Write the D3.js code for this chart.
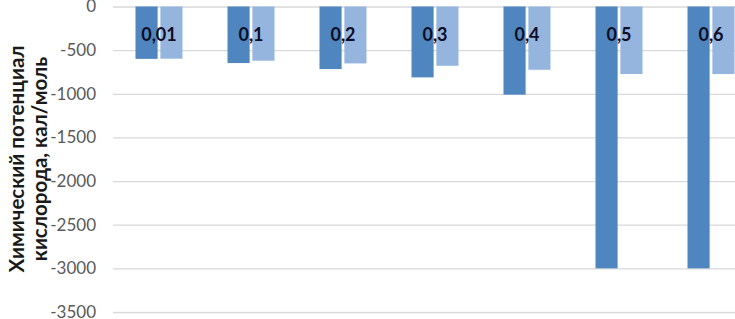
<!DOCTYPE html>
<html>
<head>
<script src="https://d3js.org/d3.v7.min.js"></script>
<style>
  body { margin: 0; background: #fff; }
  .tick text { font-family: Lato, "Open Sans", sans-serif; font-size: 17px; fill: #595959; }
  .grid line { stroke: #d9d9d9; stroke-width: 1.3; }
  .grid .domain { stroke: none; }
  .cat-label { font-family: Lato, sans-serif; font-weight: bold; font-size: 18px; fill: #0d0d26; }
  .axis-title { font-family: Lato, sans-serif; font-weight: bold; font-size: 20.5px; fill: #1a1a1a; }
</style>
</head>
<body>
<svg id="chart" width="735" height="319"></svg>
<script>
  // data
  const categories = ["0,01", "0,1", "0,2", "0,3", "0,4", "0,5", "0,6"];
  const seriesDark = [-600, -648, -717, -812, -1010, -3000, -3000];
  const seriesLight = [-598, -621, -652, -679, -725, -774, -774];
  const yTicks = [0, -500, -1000, -1500, -2000, -2500, -3000, -3500];

  const svg = d3.select("#chart");
  const margin = {top: 6.5, left: 113};
  const plotRight = 757;   // plot area runs past the visible edge
  const plotBottom = 312;

  const x = d3.scaleBand().domain(categories).range([margin.left, plotRight]).padding(0);
  const y = d3.scaleLinear().domain([-3500, 0]).range([plotBottom, margin.top]);

  // gridlines
  svg.append("g")
     .attr("class", "grid")
     .attr("transform", `translate(${margin.left},0)`)
     .call(d3.axisLeft(y).tickValues(yTicks).tickSize(-(plotRight - margin.left)).tickFormat(""));

  // y tick labels
  const yAxis = svg.append("g")
     .attr("transform", `translate(${margin.left - 17},0)`)
     .call(d3.axisLeft(y).tickValues(yTicks).tickSize(0).tickPadding(0).tickFormat(d3.format("d")));
  yAxis.select(".domain").remove();
  yAxis.selectAll("text").text(d => d < 0 ? "-" + Math.abs(d) : d);

  // bars
  const inner = d3.scaleBand().domain([0, 1]).range([0, 47]).paddingInner(0.11);
  const offset = (x.bandwidth() - 47) / 2;
  const series = [seriesDark, seriesLight];
  const colors = ["#4f86c0", "#95b5df"];

  series.forEach((vals, s) => {
    svg.append("g").selectAll("rect")
       .data(vals)
       .join("rect")
       .attr("x", (d, i) => x(categories[i]) + offset + inner(s))
       .attr("y", y(0))
       .attr("width", inner.bandwidth())
       .attr("height", d => y(d) - y(0))
       .attr("fill", colors[s]);
  });

  // category labels
  svg.append("g").selectAll("text")
     .data(categories)
     .join("text")
     .attr("class", "cat-label")
     .attr("x", d => x(d) + x.bandwidth() / 2)
     .attr("y", 41)
     .attr("text-anchor", "middle")
     .text(d => d);

  // axis title
  const title = svg.append("text")
     .attr("class", "axis-title")
     .attr("transform", "translate(0,159) rotate(-90)")
     .attr("text-anchor", "middle");
  title.append("tspan").attr("x", 0).attr("y", 24).text("Химический потенциал");
  title.append("tspan").attr("x", 0).attr("y", 47).text("кислорода, кал/моль");
</script>
</body>
</html>
